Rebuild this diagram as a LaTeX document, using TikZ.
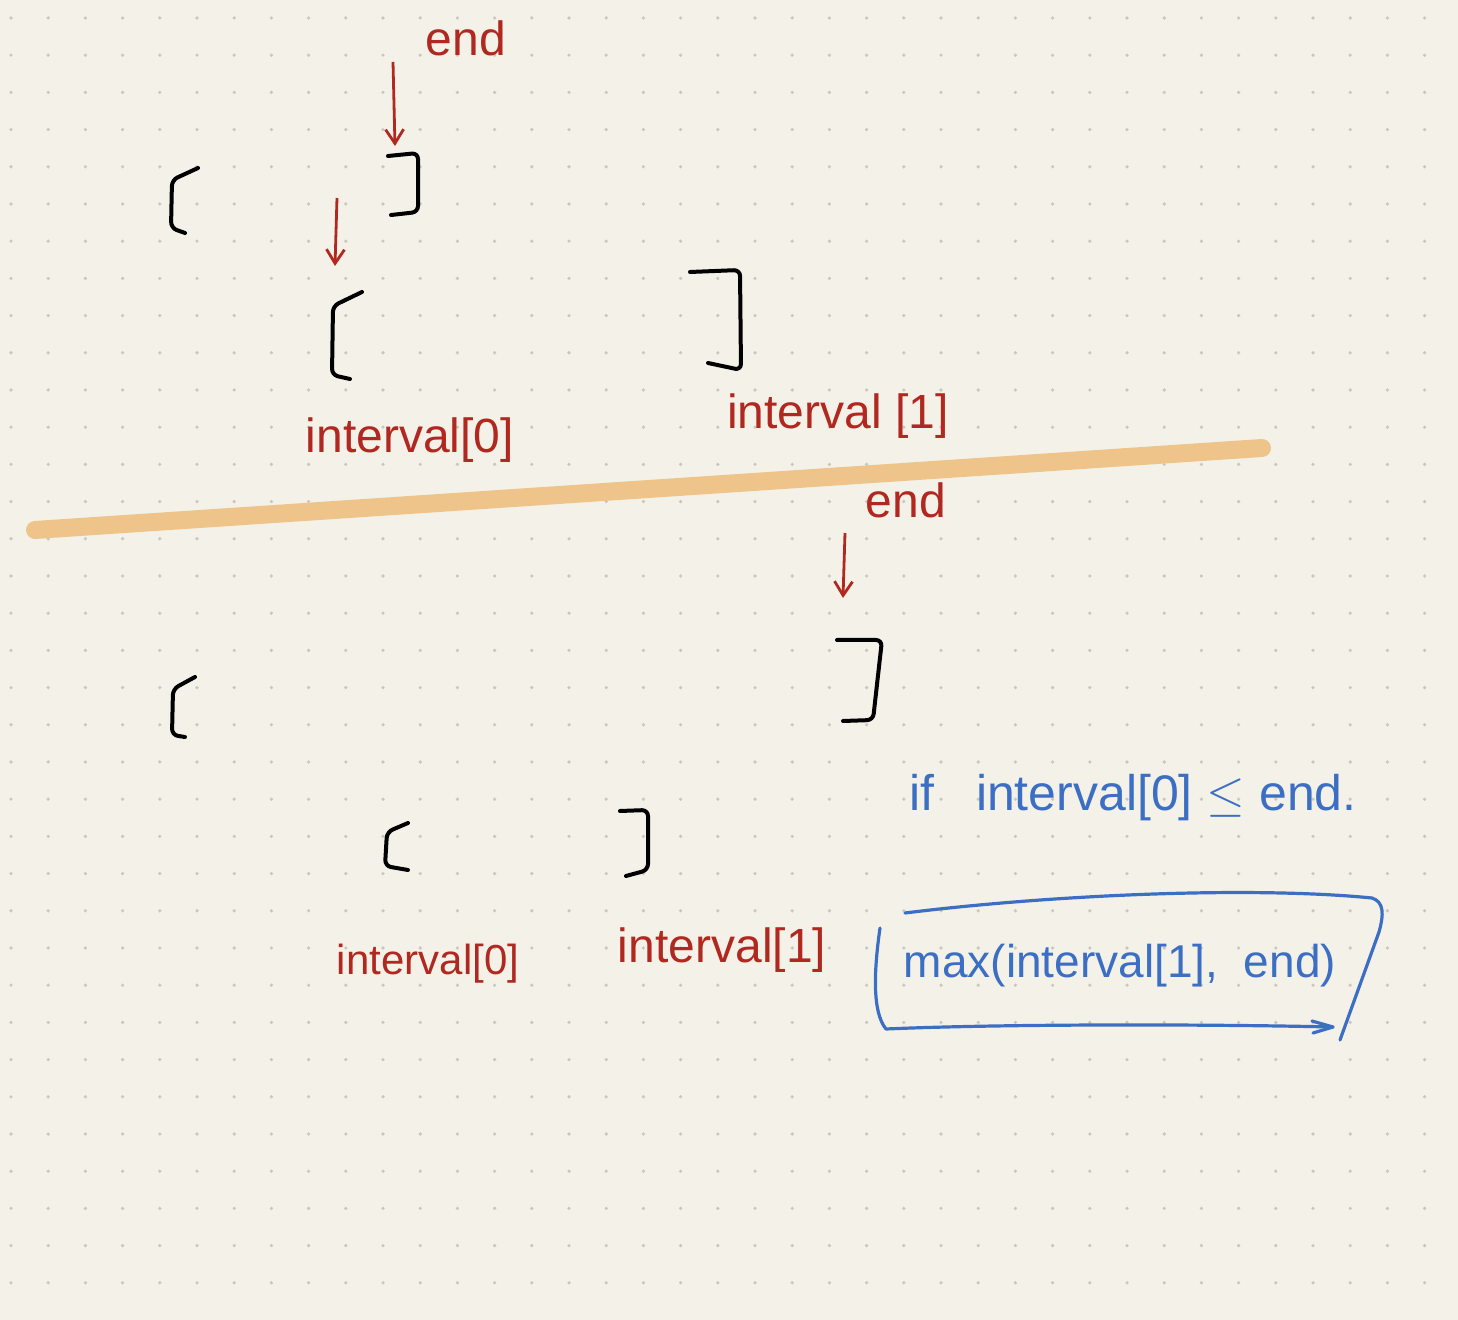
\documentclass[tikz,border=0pt]{standalone}
\usepackage{fontspec}
\setmainfont{Liberation Sans}
\usetikzlibrary{arrows.meta}
\definecolor{paper}{HTML}{F4F2E8}
\definecolor{dotc}{HTML}{C9C7BE}
\definecolor{redpen}{HTML}{B0281F}
\definecolor{bluepen}{HTML}{3C6FC4}
\definecolor{orangepen}{HTML}{EEC48A}
\tikzset{
  bracket/.style={draw=black, line width=2pt, line cap=round, line join=round, rounded corners=3pt},
  redarrow/.style={draw=redpen, line width=1.4pt, -{Straight Barb[length=7pt,width=9pt]}},
  redtext/.style={text=redpen, font=\fontsize{24}{28}\selectfont, inner sep=0pt},
  bluetext/.style={text=bluepen, font=\fontsize{25}{30}\selectfont, inner sep=0pt},
  bluestroke/.style={draw=bluepen, line width=1.6pt, line cap=round, line join=round},
}
\begin{document}
\begin{tikzpicture}[x=0.5pt,y=-0.5pt]
\useasboundingbox (0,0) rectangle (1458,1320);
\fill[paper] (0,0) rectangle (1458,1320);
\foreach \i in {0,...,38}{
  \foreach \j in {0,...,34}{
    \fill[dotc] ({11+37.2*\i},{18+37.2*\j}) circle (1.8);
  }
}
% orange separator
\draw[orangepen, line width=9pt, line cap=round] (35,530) -- (1262,448);

% top half brackets
\draw[bracket] (198,168) -- (172,180) -- (171,228) -- (185,233);
\draw[bracket] (388,156) -- (418,153) -- (418,212) -- (391,215);
\draw[bracket] (362,292) -- (333,306) -- (332,375) -- (350,379);
\draw[bracket] (690,272) -- (740,270) -- (741,370) -- (708,363);

% bottom half brackets
\draw[bracket] (195,677) -- (173,689) -- (172,735) -- (185,737);
\draw[bracket] (837,640) -- (882,640) -- (873,720) -- (843,721);
\draw[bracket] (408,823) -- (387,832) -- (385,866) -- (408,870);
\draw[bracket] (620,811) -- (648,810) -- (648,870) -- (626,876);

% red labels
\node[redtext] (endA) at (466,38) {end};
\node[redtext] (iv0a) at (410,440) {interval[0]};
\node[redtext] (iv1a) at (838,416) {interval [1]};
\node[redtext] (endB) at (906,500) {end};
\node[redtext, font=\fontsize{21}{26}\selectfont] (iv0b) at (428,964) {interval[0]};
\node[redtext] (iv1b) at (722,950) {interval[1]};

% red arrows
\coordinate (a1s) at (393,62);  \coordinate (a1e) at (395,146);
\coordinate (a2s) at (337,198); \coordinate (a2e) at (335,266);
\coordinate (a3s) at (845,533); \coordinate (a3e) at (843,598);
\draw[redarrow] (a1s) -- (a1e);
\draw[redarrow] (a2s) -- (a2e);
\draw[redarrow] (a3s) -- (a3e);

% blue text
\node[bluetext] (cond) at (1133,798) {if\ \ \ interval[0] $\leq$ end.};
\node[bluetext, font=\fontsize{23}{28}\selectfont] (res) at (1120,966) {max(interval[1], \ end)};

% blue enclosing stroke
\draw[bluestroke] (905,913) .. controls (1050,895) and (1250,886) .. (1372,898)
  .. controls (1384,902) and (1384,914) .. (1379,932) -- (1340,1040);
\draw[bluestroke] (880,928) .. controls (874,970) and (872,1012) .. (886,1029)
  .. controls (1000,1024) and (1200,1024) .. (1333,1027);
\draw[bluestroke] (1312,1021) -- (1333,1027) -- (1313,1033);
\end{tikzpicture}
\end{document}
